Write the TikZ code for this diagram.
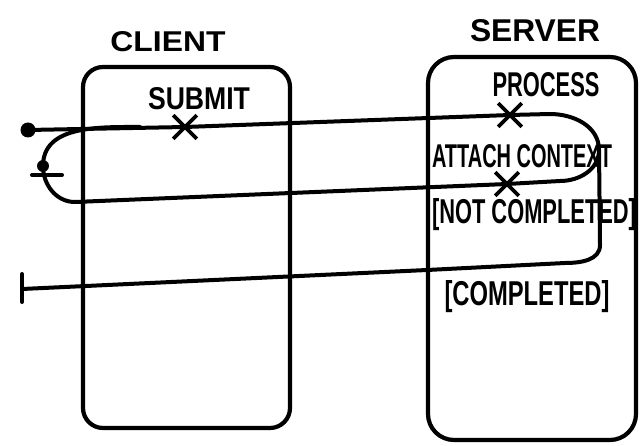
\documentclass[tikz,border=0pt]{standalone}
\usepackage{fontspec}
\setmainfont{Liberation Sans}
\usetikzlibrary{shapes.misc}
\newcommand{\sk}[3]{\resizebox{#1pt}{#2pt}{\bfseries #3}}
\begin{document}
\begin{tikzpicture}[x=1pt,y=-1pt,
  lane/.style={draw,line width=4.2pt,rounded corners=20pt},
  flow/.style={draw,line width=4pt,line join=round,line cap=round},
  xmark/.style={cross out,draw,line width=3.6pt,minimum size=20pt,inner sep=0pt},
  lbl/.style={font=\fontsize{20}{20}\selectfont,inner sep=0pt},
  dotnode/.style={circle,fill,inner sep=0pt,minimum size=#1}]
\useasboundingbox (0,0) rectangle (644,446);
% swimlanes
\draw[lane] (83,67) rectangle (290,428);
\draw[lane,rounded corners=26pt] (428,57) rectangle (636,440);
\node[lbl] (client) at (168,42) {\sk{115}{20}{CLIENT}};
\node[lbl] (server) at (535,31) {\sk{130}{22}{SERVER}};
% marks
\node[dotnode=15pt] (start) at (28,130) {};
\node[xmark] (submitx) at (185,127) {};
\node[xmark] (processx) at (510,115) {};
\node[xmark] (attachx) at (507,184) {};
\node[dotnode=12pt] (merge) at (43,166) {};
\coordinate (split) at (599,150);
\coordinate (endp) at (22,289);
\coordinate (join) at (140,127);
% labels
\node[lbl] (submitl) at (199,99) {\sk{102}{22}{SUBMIT}};
\node[lbl] (processl) at (546,85) {\sk{107}{24}{PROCESS}};
\node[lbl] (attachl) at (522,156) {\sk{180}{23}{ATTACH CONTEXT}};
\node[lbl] (notc) at (534,215) {\sk{204}{25}{[NOT COMPLETED]}};
\node[lbl] (comp) at (527,297) {\sk{165}{25}{[COMPLETED]}};
% flows
\draw[flow] (start.center) -- (submitx.center) -- (processx.center)
  -- (550,114) to[out=0,in=90] (split);
\draw[flow] (split) to[out=-90,in=0] (560,181) -- (attachx.center)
  -- (75,202) to[out=180,in=-90] (merge.center) to[out=90,in=180] (join);
\draw[flow] (32,175) -- (62,175);
\draw[flow] (split) -- (600,245) to[out=-90,in=0] (565,263)
  -- (427,270) -- (endp);
\draw[flow] (endp) ++(0,-15) -- ++(0,28);
\end{tikzpicture}
\end{document}
